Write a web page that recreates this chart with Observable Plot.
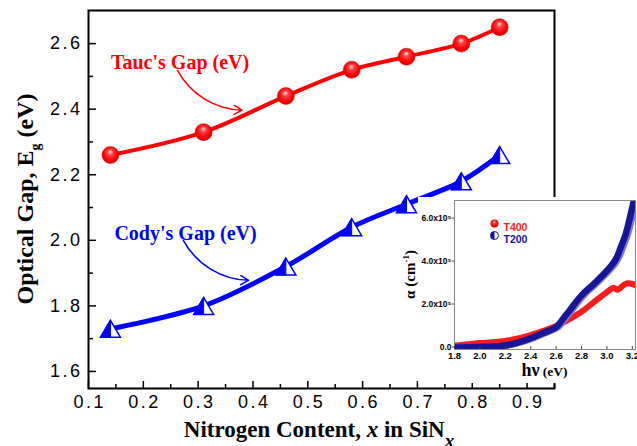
<!DOCTYPE html>
<html>
<head>
<meta charset="utf-8">
<script src="https://cdn.jsdelivr.net/npm/d3@7"></script>
<script src="https://cdn.jsdelivr.net/npm/@observablehq/plot@0.6"></script>
<style>
  html, body { margin: 0; padding: 0; background: #fff; }
  #chart { position: relative; width: 637px; height: 446px; overflow: hidden; }
  #chart svg { position: absolute; }
  #main g[aria-label="x-axis tick label"] text,
  #main g[aria-label="y-axis tick label"] text { letter-spacing: 2.5px; }
</style>
</head>
<body>
<div id="chart"></div>
<script>
// ---- Optical gap versus nitrogen content x in SiNx ----
const nitrogen = [0.14, 0.31, 0.46, 0.58, 0.68, 0.78, 0.85];
const taucGap  = [2.26, 2.33, 2.44, 2.52, 2.56, 2.60, 2.65];
const codyGap  = [1.73, 1.80, 1.92, 2.04, 2.11, 2.18, 2.26];

const xTicks = [0.1, 0.2, 0.3, 0.4, 0.5, 0.6, 0.7, 0.8, 0.9];
const xMinorTicks = [0.15, 0.25, 0.35, 0.45, 0.55, 0.65, 0.75, 0.85, 0.95];
const yTicks = [1.6, 1.8, 2.0, 2.2, 2.4, 2.6];
const yMinorTicks = [1.7, 1.9, 2.1, 2.3, 2.5];

// Series call-outs: label anchor and arrow from label to curve
const calloutText  = ["Tauc's Gap (eV)", "Cody's Gap (eV)"];
const calloutColor = ["#ff0000", "#0000ff"];
const calloutX  = [0.267, 0.277];
const calloutY  = [2.541, 2.022];
const arrowX1   = [0.262, 0.273];
const arrowY1   = [2.519, 2.000];
const arrowX2   = [0.380, 0.392];
const arrowY2   = [2.397, 1.878];

// ---- Inset: absorption coefficient (x10^5 cm^-1) versus photon energy (eV) ----
const photonEnergy = [1.8, 1.9, 2.0, 2.1, 2.2, 2.3, 2.4, 2.5, 2.6, 2.65, 2.7, 2.8, 2.9, 3.0, 3.05, 3.08, 3.1, 3.15, 3.2, 3.22];
const alphaT400    = [0.06, 0.12, 0.18, 0.22, 0.28, 0.40, 0.55, 0.75, 0.97, 1.12, 1.28, 1.64, 2.10, 2.55, 2.76, 2.66, 2.72, 2.95, 2.93, 2.88];
const alphaT200    = [-0.02, -0.02, 0.00, 0.02, 0.07, 0.20, 0.40, 0.65, 0.92, 1.28, 1.65, 2.40, 2.95, 3.55, 3.90, 4.20, 4.50, 5.30, 6.50, 7.00];
const insetXTicks = [1.8, 2.0, 2.2, 2.4, 2.6, 2.8, 3.0, 3.2];
const insetYTicks = [0, 2, 4, 6];
const legendNames = ["T400", "T200"];
const legendColors = ["#ff1a1a", "#161696"];

// ---- tables built from the arrays ----
const gapRows = nitrogen.map((x, i) => ({x, tauc: taucGap[i], cody: codyGap[i]}));
const callouts = calloutText.map((text, i) => ({
  text, color: calloutColor[i], x: calloutX[i], y: calloutY[i],
  x1: arrowX1[i], y1: arrowY1[i], x2: arrowX2[i], y2: arrowY2[i]
}));
const absRows = photonEnergy.map((e, i) => ({e, t400: alphaT400[i], t200: alphaT200[i]}));

// ---- marker shapes ----
const triOutline = {
  draw(ctx, size) {
    const r = Math.sqrt(size / Math.PI), h = 0.85 * r;
    ctx.moveTo(0, -h); ctx.lineTo(r, h); ctx.lineTo(-r, h); ctx.closePath();
  }
};
const triLeftHalf = {
  draw(ctx, size) {
    const r = Math.sqrt(size / Math.PI), h = 0.85 * r;
    ctx.moveTo(0, -h); ctx.lineTo(0, h); ctx.lineTo(-r, h); ctx.closePath();
  }
};
const circleLeftHalf = {
  draw(ctx, size) {
    const r = Math.sqrt(size / Math.PI);
    ctx.moveTo(0, -r); ctx.arc(0, 0, r, -Math.PI / 2, Math.PI / 2, true); ctx.closePath();
  }
};

// Shaded-sphere gradient used by the Tauc markers
function sphereDefs() {
  const g = d3.create("svg:g");
  const grad = g.append("defs").append("radialGradient")
    .attr("id", "sphere").attr("cx", "50%").attr("cy", "45%").attr("r", "55%")
    .attr("fx", "48%").attr("fy", "30%");
  grad.append("stop").attr("offset", "0%").attr("stop-color", "#ffe8e8");
  grad.append("stop").attr("offset", "30%").attr("stop-color", "#ff4040");
  grad.append("stop").attr("offset", "75%").attr("stop-color", "#ff0000");
  grad.append("stop").attr("offset", "100%").attr("stop-color", "#d00000");
  return g.node();
}

// Text with sub/superscripts, placed relative to the plot frame
function richText(parts, place) {
  return (index, scales, values, dims) => {
    const {x, y, rotate = 0} = place(dims);
    const t = d3.create("svg:text")
      .attr("transform", `translate(${x},${y}) rotate(${rotate})`)
      .attr("text-anchor", "middle")
      .attr("font-family", "Liberation Serif, Times New Roman, serif")
      .attr("font-weight", "bold");
    for (const p of parts) {
      const s = t.append("tspan").text(p.text).attr("font-size", p.size);
      if (p.dy) s.attr("dy", p.dy);
      if (p.italic) s.attr("font-style", "italic");
    }
    return t.node();
  };
}

const serif = "Liberation Serif, Times New Roman, serif";
const sans = "Liberation Sans, Arial, sans-serif";

const main = Plot.plot({
  width: 637, height: 446,
  marginLeft: 88, marginRight: 83, marginTop: 10, marginBottom: 58,
  style: {background: "white", overflow: "visible"},
  x: {domain: [0.1, 0.95]},
  y: {domain: [1.548, 2.701]},
  marks: [
    sphereDefs,
    // inward ticks
    Plot.axisX(xTicks, {tickSize: -7, text: null, strokeWidth: 1.5, label: null}),
    Plot.axisX(xMinorTicks, {tickSize: -4, text: null, strokeWidth: 1.5, label: null}),
    Plot.axisY(yTicks, {tickSize: -8, text: null, strokeWidth: 1.5, label: null}),
    Plot.axisY(yMinorTicks, {tickSize: -5, text: null, strokeWidth: 1.5, label: null}),
    // tick labels
    Plot.axisX(xTicks, {tickSize: 0, tickPadding: 7, fontSize: 18, fontFamily: sans, dx: 1.2,
      tickFormat: d => d.toFixed(1), label: null}),
    Plot.axisY(yTicks, {tickSize: 0, tickPadding: 6, fontSize: 18, fontFamily: sans,
      tickFormat: d => d.toFixed(1), label: null}),
    Plot.frame({stroke: "black", strokeWidth: 2}),
    // curves
    Plot.line(gapRows, {x: "x", y: "tauc", curve: "catmull-rom", stroke: "#ff0000", strokeWidth: 4}),
    Plot.line(gapRows, {x: "x", y: "cody", curve: "catmull-rom", stroke: "#0000ff", strokeWidth: 5}),
    // markers
    Plot.dot(gapRows, {x: "x", y: "tauc", r: 8.5, fill: "url(#sphere)", stroke: "#e00000", strokeWidth: 0.5}),
    Plot.dot(gapRows, {x: "x", y: "cody", r: 10, symbol: triOutline, fill: "white", stroke: "#0000ff", strokeWidth: 1.5}),
    Plot.dot(gapRows, {x: "x", y: "cody", r: 10, symbol: triLeftHalf, fill: "#0000ff", stroke: "#0000ff", strokeWidth: 1}),
    // call-outs
    Plot.text(callouts, {x: "x", y: "y", text: "text", fill: "color", fontFamily: serif, fontWeight: "bold", fontSize: 20}),
    Plot.arrow(callouts, {x1: "x1", y1: "y1", x2: "x2", y2: "y2", bend: -30, stroke: "color", strokeWidth: 1.5, headLength: 9}),
    // axis titles
    richText([
      {text: "Optical Gap, E", size: 24},
      {text: "g", size: 14, dy: 7},
      {text: " (eV)", size: 24, dy: -7}
    ], d => ({x: d.marginLeft - 55, y: d.marginTop + (d.height - d.marginTop - d.marginBottom) / 2, rotate: -90})),
    richText([
      {text: "Nitrogen Content, ", size: 23},
      {text: "x", size: 23, italic: true},
      {text: " in SiN", size: 23},
      {text: "x", size: 19, italic: true, dy: 10}
    ], d => ({x: d.marginLeft + (d.width - d.marginLeft - d.marginRight) / 2 - 2, y: d.height - d.marginBottom + 49}))
  ]
});
main.id = "main";
main.style.left = "0px";
main.style.top = "0px";

// Inset panel: its white box hides the lower right part of the main frame
const inset = Plot.plot({
  width: 219, height: 186,
  marginLeft: 36, marginRight: 2, marginTop: 3, marginBottom: 34,
  style: {background: "white", overflow: "visible"},
  x: {domain: [1.8, 3.225]},
  y: {domain: [-0.12, 6.82]},
  marks: [
    Plot.line(absRows, {x: "e", y: "t400", curve: "catmull-rom", stroke: "#ff1a1a", strokeWidth: 6, clip: true}),
    Plot.line(absRows, {x: "e", y: "t200", curve: "catmull-rom", stroke: "#7a7ae0", strokeWidth: 6, dx: 2.5, clip: true}),
    Plot.line(absRows, {x: "e", y: "t200", curve: "catmull-rom", stroke: "#161696", strokeWidth: 6.5, clip: true}),
    Plot.frame({stroke: "#888", strokeWidth: 1}),
    Plot.axisX(insetXTicks, {tickSize: -3, text: null, stroke: "#444", label: null}),
    Plot.axisY(insetYTicks, {tickSize: 2, text: null, stroke: "#444", label: null}),
    Plot.axisX(insetXTicks, {tickSize: 0, tickPadding: 3, fontSize: 9.5, fontWeight: "bold", fontFamily: sans,
      tickFormat: d => d.toFixed(1), label: null}),
    Plot.axisY(insetYTicks, {tickSize: 0, tickPadding: 3, fontSize: 8.5, fontWeight: "bold", fontFamily: sans,
      tickFormat: d => d === 0 ? "0.0" : `${d.toFixed(1)}x10\u2075`, label: null}),
    // legend
    Plot.dot([legendNames[0]], {frameAnchor: "top-left", dx: 40, dy: 23, r: 4, fill: "url(#sphere)"}),
    Plot.dot([legendNames[1]], {frameAnchor: "top-left", dx: 40, dy: 35, r: 4, fill: "white", stroke: legendColors[1], strokeWidth: 1}),
    Plot.dot([legendNames[1]], {frameAnchor: "top-left", dx: 40, dy: 35, r: 4, symbol: circleLeftHalf, fill: legendColors[1]}),
    Plot.text([legendNames[0]], {frameAnchor: "top-left", dx: 49, dy: 23, text: d => d, textAnchor: "start",
      fill: legendColors[0], fontWeight: "bold", fontFamily: sans, fontSize: 10.5}),
    Plot.text([legendNames[1]], {frameAnchor: "top-left", dx: 49, dy: 35, text: d => d, textAnchor: "start",
      fill: legendColors[1], fontWeight: "bold", fontFamily: sans, fontSize: 10.5}),
    // axis titles
    richText([
      {text: "\u03b1 (cm", size: 15},
      {text: "-1", size: 9, dy: -6},
      {text: ")", size: 15, dy: 6}
    ], d => ({x: d.marginLeft - 39, y: d.marginTop + (d.height - d.marginTop - d.marginBottom) / 2, rotate: -90})),
    richText([
      {text: "h\u03bd", size: 18},
      {text: " (eV)", size: 13.5}
    ], d => ({x: d.marginLeft + (d.width - d.marginLeft - d.marginRight) / 2, y: d.height - d.marginBottom + 27}))
  ]
});
inset.style.left = "418px";
inset.style.top = "197px";

const chart = document.getElementById("chart");
chart.appendChild(main);
chart.appendChild(inset);
</script>
</body>
</html>
